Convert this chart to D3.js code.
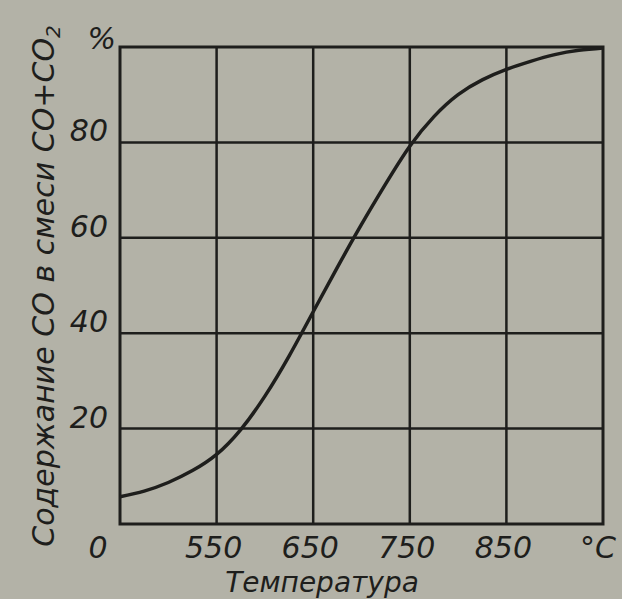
<!DOCTYPE html>
<html lang="ru">
<head>
    <meta charset="UTF-8">
    <title>Содержание CO в смеси CO+CO2</title>
    <script src="https://d3js.org/d3.v7.min.js"></script>
    <style>
        body {
            margin: 0;
            background-color: #b3b2a7;
        }
        svg text {
            font-family: "DejaVu Sans", sans-serif;
            font-style: italic;
            fill: #1e1e1c;
        }
    </style>
</head>
<body>
    <svg id="chart" width="622" height="599"></svg>
    <script>
        // temperature, °C  and  CO share, %
        const temps = [450, 475, 500, 525, 550, 575, 600, 625, 650, 675, 700, 725, 750, 775, 800, 825, 850, 875, 900, 925, 950];
        const coShare = [5.7, 6.9, 8.7, 11.2, 14.6, 19.8, 26.8, 35.2, 44.5, 53.8, 62.8, 71.3, 79.2, 85.4, 90, 93.1, 95.3, 97, 98.4, 99.3, 99.8];

        const xTicks = [550, 650, 750, 850];
        const yTicks = [20, 40, 60, 80];

        const svg = d3.select("#chart");
        const ink = "#1e1e1c";

        const x = d3.scaleLinear().domain([450, 950]).range([120, 603]);
        const y = d3.scaleLinear().domain([0, 100]).range([524, 47]);

        // grid
        svg.selectAll(".vgrid")
            .data(xTicks)
            .enter()
            .append("line")
            .attr("x1", d => x(d)).attr("x2", d => x(d))
            .attr("y1", y(0)).attr("y2", y(100))
            .attr("stroke", ink).attr("stroke-width", 2.5);

        svg.selectAll(".hgrid")
            .data(yTicks)
            .enter()
            .append("line")
            .attr("x1", x(450)).attr("x2", x(950))
            .attr("y1", d => y(d)).attr("y2", d => y(d))
            .attr("stroke", ink).attr("stroke-width", 2.5);

        // frame
        svg.append("rect")
            .attr("x", x(450)).attr("y", y(100))
            .attr("width", x(950) - x(450)).attr("height", y(0) - y(100))
            .attr("fill", "none").attr("stroke", ink).attr("stroke-width", 3);

        // curve
        const line = d3.line()
            .x((d, i) => x(temps[i]))
            .y(d => y(d))
            .curve(d3.curveNatural);

        svg.append("path")
            .datum(coShare)
            .attr("d", line)
            .attr("fill", "none")
            .attr("stroke", ink)
            .attr("stroke-width", 3.5);

        // tick labels
        svg.selectAll(".xlab")
            .data(xTicks)
            .enter()
            .append("text")
            .attr("x", d => x(d) - 3)
            .attr("y", 558)
            .attr("text-anchor", "middle")
            .attr("font-size", 30)
            .text(d => d);

        svg.append("text")
            .attr("x", 98).attr("y", 558)
            .attr("text-anchor", "middle")
            .attr("font-size", 30)
            .text("0");

        svg.append("text")
            .attr("x", 598).attr("y", 558)
            .attr("text-anchor", "middle")
            .attr("font-size", 30)
            .text("°C");

        svg.selectAll(".ylab")
            .data(yTicks)
            .enter()
            .append("text")
            .attr("x", 108)
            .attr("y", d => y(d) - 1)
            .attr("text-anchor", "end")
            .attr("font-size", 30)
            .text(d => d);

        svg.append("text")
            .attr("x", 116).attr("y", 49)
            .attr("text-anchor", "end")
            .attr("font-size", 30)
            .text("%");

        // axis titles
        svg.append("text")
            .attr("x", 322).attr("y", 592)
            .attr("text-anchor", "middle")
            .attr("font-size", 28)
            .text("Температура");

        const yTitle = svg.append("text")
            .attr("transform", "translate(54,286) rotate(-90)")
            .attr("text-anchor", "middle")
            .attr("font-size", 30);
        yTitle.append("tspan").text("Содержание CO  в смеси CO+CO");
        yTitle.append("tspan").attr("font-size", 20).attr("dy", 6).text("2");
    </script>
</body>
</html>
